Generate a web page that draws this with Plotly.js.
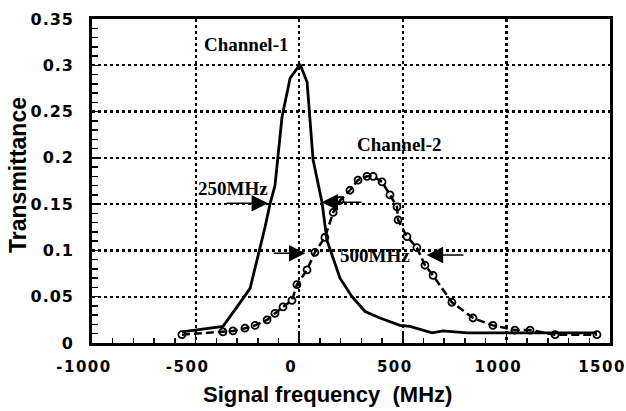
<!DOCTYPE html>
<html>
<head>
<meta charset="utf-8">
<script src="https://cdn.plot.ly/plotly-3.0.1.min.js"></script>
<style>
body{margin:0;padding:0;background:#fff;}
#chart{width:626px;height:411px;}
.xtick text{letter-spacing:1.5px;}
.ytick text{letter-spacing:1px;}
</style>
</head>
<body>
<div id="chart"></div>
<script>
// Channel-1 (solid line)
const ch1Freq = [-566, -368, -300, -237, -165, -141, -117, -83, -44, 4, 38, 67, 110, 134, 197, 255, 318, 390, 486, 535, 641, 694, 810, 1000, 1200, 1437];
const ch1Trans = [0.012, 0.018, 0.039, 0.059, 0.125, 0.150, 0.170, 0.244, 0.286, 0.301, 0.282, 0.198, 0.152, 0.111, 0.070, 0.050, 0.034, 0.027, 0.019, 0.018, 0.011, 0.013, 0.011, 0.011, 0.011, 0.011];
// Channel-2 (dashed with markers)
const ch2Freq = [-566, -368, -320, -262, -213, -155, -117, -78, -35, -11, 38, 76, 124, 164, 197, 245, 284, 327, 357, 400, 438, 472, 477, 520, 568, 607, 646, 737, 839, 935, 1041, 1114, 1235, 1437];
const ch2Trans = [0.009, 0.012, 0.013, 0.016, 0.019, 0.025, 0.032, 0.039, 0.046, 0.063, 0.079, 0.098, 0.114, 0.141, 0.154, 0.165, 0.176, 0.180, 0.180, 0.174, 0.160, 0.147, 0.133, 0.115, 0.103, 0.084, 0.073, 0.044, 0.027, 0.019, 0.014, 0.014, 0.009, 0.009];

const xTicks = [-1000, -500, 0, 500, 1000, 1500];
const xTickText = ['-1000', '-500', '0', '500', '1000', '1500'];
const yTicks = [0, 0.05, 0.1, 0.15, 0.2, 0.25, 0.3, 0.35];
const yTickText = ['0', '0.05', '0.1', '0.15', '0.2', '0.25', '0.3', '0.35'];

// Labels: [text, x, y]
const labels = [
  ['Channel-1', -257, 0.322],
  ['Channel-2', 482, 0.214],
  ['250MHz', -320, 0.167],
  ['500MHz', 366, 0.095]
];
// Arrows: [headX, headY, tailX, tailY]
const arrows = [
  [-150, 0.151, -358, 0.151],
  [108, 0.152, 308, 0.152],
  [30, 0.097, -131, 0.097],
  [615, 0.095, 800, 0.095]
];

const serif = {family: 'Liberation Serif, Times New Roman, serif', size: 19, color: '#000', weight: 'bold'};
const sans = 'Liberation Sans, Arial, sans-serif';

const traces = [
  {x: ch1Freq, y: ch1Trans, mode: 'lines', type: 'scatter',
   line: {color: '#000', width: 2.8}, name: 'Channel-1'},
  {x: ch2Freq, y: ch2Trans, mode: 'lines+markers', type: 'scatter',
   line: {color: '#000', width: 2.5, dash: '8px,4px'},
   marker: {symbol: 'circle-open', size: 7, color: '#000', line: {width: 1.8, color: '#000'}},
   name: 'Channel-2'}
];

const annotations = [];
labels.forEach(l => annotations.push({
  text: l[0], x: l[1], y: l[2], xref: 'x', yref: 'y', showarrow: false, font: serif
}));
arrows.forEach(a => annotations.push({
  x: a[0], y: a[1], ax: a[2], ay: a[3], xref: 'x', yref: 'y', axref: 'x', ayref: 'y',
  showarrow: true, arrowhead: 2, arrowsize: 2.2, arrowwidth: 1.5, arrowcolor: '#000', text: ''
}));
annotations.push({
  text: 'Signal frequency  (MHz)', xref: 'paper', yref: 'paper', x: 0.4537, y: -0.16,
  xanchor: 'center', yanchor: 'middle', showarrow: false,
  font: {family: sans, size: 22, color: '#000', weight: 'bold'}
});
annotations.push({
  text: 'Transmittance', xref: 'paper', yref: 'paper', x: -0.1429, y: 0.5185, textangle: -90,
  xanchor: 'center', yanchor: 'middle', showarrow: false,
  font: {family: sans, size: 23, color: '#000', weight: 'bold'}
});

const layout = {
  width: 626, height: 411,
  margin: {l: 92, r: 16, t: 19, b: 68},
  paper_bgcolor: '#fff', plot_bgcolor: '#fff',
  showlegend: false,
  xaxis: {
    range: [-1000, 1500], tickmode: 'array', tickvals: xTicks, ticktext: xTickText,
    ticks: 'inside', ticklen: 10, tickwidth: 1.5, tickcolor: '#000',
    showline: true, linecolor: '#000', linewidth: 2.8, mirror: true,
    showgrid: true, gridcolor: '#000', gridwidth: 2.2, griddash: 'dot',
    zeroline: false, ticklabelstandoff: 8, ticklabelshift: -8, ticklabeloverflow: 'allow',
    tickfont: {family: 'DejaVu Sans, sans-serif', size: 15, color: '#000', weight: 'bold'},
    minor: {dtick: 100, ticks: 'inside', ticklen: 5, tickwidth: 1.5, tickcolor: '#000', showgrid: false}
  },
  yaxis: {
    range: [0, 0.35], tickmode: 'array', tickvals: yTicks, ticktext: yTickText,
    ticks: 'inside', ticklen: 8, tickwidth: 1.5, tickcolor: '#000',
    showline: true, linecolor: '#000', linewidth: 2.8, mirror: true,
    showgrid: true, gridcolor: '#000', gridwidth: 2.2, griddash: 'dot',
    zeroline: false, ticklabelstandoff: 12,
    tickfont: {family: 'DejaVu Sans, sans-serif', size: 16, color: '#000', weight: 'bold'},
    minor: {dtick: 0.01, ticks: 'inside', ticklen: 6, tickwidth: 1.5, tickcolor: '#000', showgrid: false}
  },
  annotations: annotations
};

Plotly.newPlot('chart', traces, layout, {staticPlot: true, displayModeBar: false});
</script>
</body>
</html>
